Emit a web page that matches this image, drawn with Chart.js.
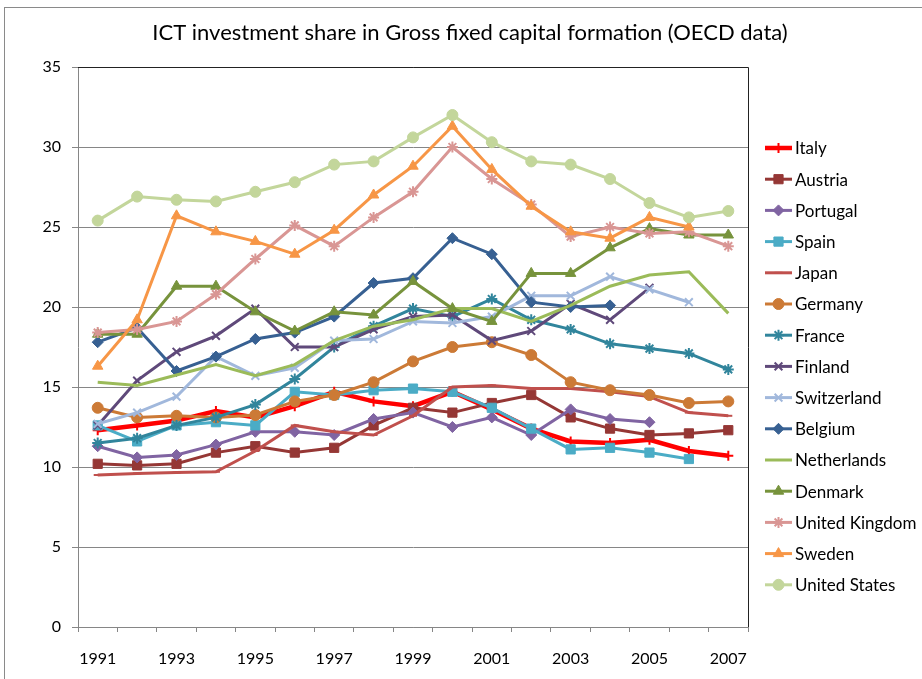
<!DOCTYPE html>
<html>
<head>
<meta charset="utf-8">
<script src="https://cdn.jsdelivr.net/npm/chart.js@4.4.1/dist/chart.umd.min.js"></script>
<style>
  html, body { margin:0; padding:0; background:#fff; }
  #wrap { width:922px; height:679px; }
</style>
</head>
<body>
<div id="wrap"><canvas id="chart" width="922" height="679"></canvas></div>
<script>
const years = ['1991','1992','1993','1994','1995','1996','1997','1998','1999','2000','2001','2002','2003','2004','2005','2006','2007'];
const yTicks = [0, 5, 10, 15, 20, 25, 30, 35];

const italy       = [12.3,12.6,12.9,13.5,13.1,13.8,14.7,14.1,13.8,14.7,13.6,12.4,11.6,11.5,11.7,11.0,10.7];
const austria     = [10.2,10.1,10.2,10.9,11.3,10.9,11.2,12.6,13.7,13.4,14.0,14.5,13.1,12.4,12.0,12.1,12.3];
const portugal    = [11.3,10.6,10.75,11.4,12.2,12.2,12.0,13.0,13.4,12.5,13.1,12.0,13.6,13.0,12.8,null,null];
const spain       = [12.6,11.6,12.6,12.8,12.6,14.7,14.5,14.8,14.9,14.7,13.7,12.4,11.1,11.2,10.9,10.5,null];
const japan       = [9.5,9.6,9.65,9.7,11.0,12.6,12.2,12.0,13.2,15.0,15.1,14.9,14.9,14.7,14.4,13.4,13.2];
const germany     = [13.7,13.1,13.2,13.1,13.25,14.1,14.5,15.3,16.6,17.5,17.8,17.0,15.3,14.8,14.5,14.0,14.1];
const france      = [11.5,11.8,12.6,13.1,13.9,15.5,17.5,18.8,19.9,19.4,20.5,19.2,18.6,17.7,17.4,17.1,16.1];
const finland     = [12.6,15.4,17.2,18.2,19.9,17.5,17.5,18.6,19.4,19.5,17.9,18.5,20.2,19.2,21.2,null,null];
const switzerland = [12.7,13.4,14.4,16.9,15.7,16.2,17.9,18.0,19.1,19.0,19.4,20.7,20.7,21.9,21.1,20.3,null];
const belgium     = [17.8,18.7,16.0,16.9,18.0,18.4,19.4,21.5,21.8,24.3,23.3,20.3,20.0,20.1,null,null,null];
const netherlands = [15.3,15.1,15.75,16.4,15.7,16.4,17.9,18.8,19.2,19.9,19.9,19.1,20.1,21.3,22.0,22.2,19.6];
const denmark     = [18.3,18.3,21.3,21.3,19.7,18.5,19.7,19.5,21.6,19.9,19.1,22.1,22.1,23.7,24.9,24.5,24.5];
const uk          = [18.4,18.6,19.1,20.8,23.0,25.1,23.8,25.6,27.2,30.0,28.0,26.4,24.4,25.0,24.6,24.7,23.8];
const sweden      = [16.3,19.2,25.7,24.7,24.1,23.3,24.8,27.0,28.8,31.3,28.6,26.3,24.7,24.3,25.6,25.0,null];
const us          = [25.4,26.9,26.7,26.6,27.2,27.8,28.9,29.1,30.6,32.0,30.3,29.1,28.9,28.0,26.5,25.6,26.0];

const FONT = 'Lato, "Open Sans", sans-serif';

// name, data, colour, marker, radius, line width
const series = [
  ['Italy', italy, '#FF0000', 'cross', 5, 4.5],
  ['Austria', austria, '#953735', 'rect', 6.5, 3],
  ['Portugal', portugal, '#8064A2', 'rectRot', 5.5, 3],
  ['Spain', spain, '#4BACC6', 'rect', 6.5, 3],
  ['Japan', japan, '#C0504D', 'line', 4, 3],
  ['Germany', germany, '#CC7A36', 'circle', 5.5, 3],
  ['France', france, '#31859C', 'star', 5.5, 3],
  ['Finland', finland, '#5F497A', 'crossRot', 5.5, 3],
  ['Switzerland', switzerland, '#A1B8DC', 'crossRot', 5.5, 3],
  ['Belgium', belgium, '#376092', 'rectRot', 5.5, 3],
  ['Netherlands', netherlands, '#9BBB59', false, 0, 3],
  ['Denmark', denmark, '#77933C', 'triangle', 6, 3],
  ['United Kingdom', uk, '#D99694', 'star', 5.5, 3],
  ['Sweden', sweden, '#F79646', 'triangle', 6, 3],
  ['United States', us, '#C3D69B', 'circle', 5.5, 3]
];

const datasets = series.map((s, i) => ({
  label: s[0],
  data: s[1],
  borderColor: s[2],
  backgroundColor: s[2],
  borderWidth: s[5],
  pointStyle: s[3],
  pointRadius: s[4],
  pointHoverRadius: s[4],
  pointBorderWidth: (s[3] === 'cross' || s[3] === 'star' || s[3] === 'crossRot' || s[3] === 'line') ? 2 : 1,
  tension: 0,
  spanGaps: false,
  order: series.length - i
}));

const frame = {
  id: 'frame',
  beforeDraw(chart) {
    const ctx = chart.ctx;
    ctx.save();
    ctx.fillStyle = '#fff';
    ctx.fillRect(0, 0, chart.width, chart.height);
    ctx.strokeStyle = '#8a8a8a';
    ctx.lineWidth = 1;
    ctx.strokeRect(4.5, 7.5, chart.width + 20, chart.height + 20);
    ctx.restore();
  },
  afterDraw(chart) {
    const ctx = chart.ctx;
    const a = chart.chartArea;
    ctx.save();
    // bordo area grafico (alto e destra)
    ctx.strokeStyle = '#222';
    ctx.lineWidth = 1;
    ctx.beginPath();
    ctx.moveTo(a.left, a.top + 0.5);
    ctx.lineTo(a.right + 0.5, a.top + 0.5);
    ctx.lineTo(a.right + 0.5, a.bottom);
    ctx.stroke();

    // titolo
    ctx.fillStyle = '#000';
    ctx.font = '22px ' + FONT;
    ctx.textAlign = 'center';
    ctx.textBaseline = 'middle';
    ctx.fillText('ICT investment share in Gross fixed capital formation (OECD data)', 470, 33);

    // legenda
    ctx.font = '17px ' + FONT;
    ctx.textAlign = 'left';
    chart.data.datasets.forEach((ds, i) => {
      const y = 148 + i * 31.2;
      ctx.strokeStyle = ds.borderColor;
      ctx.fillStyle = ds.backgroundColor;
      ctx.lineWidth = ds.borderWidth;
      ctx.beginPath();
      ctx.moveTo(765, y);
      ctx.lineTo(792, y);
      ctx.stroke();
      if (ds.pointStyle) {
        ctx.lineWidth = ds.pointBorderWidth;
        Chart.helpers.drawPoint(ctx, {pointStyle: ds.pointStyle, radius: ds.pointRadius, borderWidth: ds.pointBorderWidth, rotation: 0}, 778.5, y);
      }
      ctx.fillStyle = '#000';
      ctx.fillText(ds.label, 795, y + 1);
    });
    ctx.restore();
  }
};

new Chart(document.getElementById('chart').getContext('2d'), {
  type: 'line',
  data: { labels: years, datasets: datasets },
  options: {
    responsive: false,
    animation: false,
    layout: { padding: { left: 0, top: 67, right: 174, bottom: 0 } },
    plugins: { legend: { display: false }, title: { display: false }, tooltip: { enabled: false } },
    scales: {
      x: {
        type: 'category',
        offset: true,
        afterFit: s => { s.height = 52; },
        grid: { offset: true, drawOnChartArea: false, drawTicks: true, tickLength: 5, color: '#868686' },
        border: { color: '#868686', width: 1 },
        ticks: {
          autoSkip: false, maxRotation: 0, padding: 17, color: '#000',
          font: { family: FONT, size: 16 },
          callback: (v, i) => (i % 2 === 0 ? years[i] : '')
        }
      },
      y: {
        min: 0, max: 35,
        afterFit: s => { s.width = 78; },
        afterBuildTicks: s => { s.ticks = yTicks.map(v => ({ value: v })); },
        grid: { color: '#868686', tickLength: 6, drawTicks: true },
        border: { color: '#868686', width: 1 },
        ticks: { padding: 11, color: '#000', font: { family: FONT, size: 16 } }
      }
    }
  },
  plugins: [frame]
});
</script>
</body>
</html>
